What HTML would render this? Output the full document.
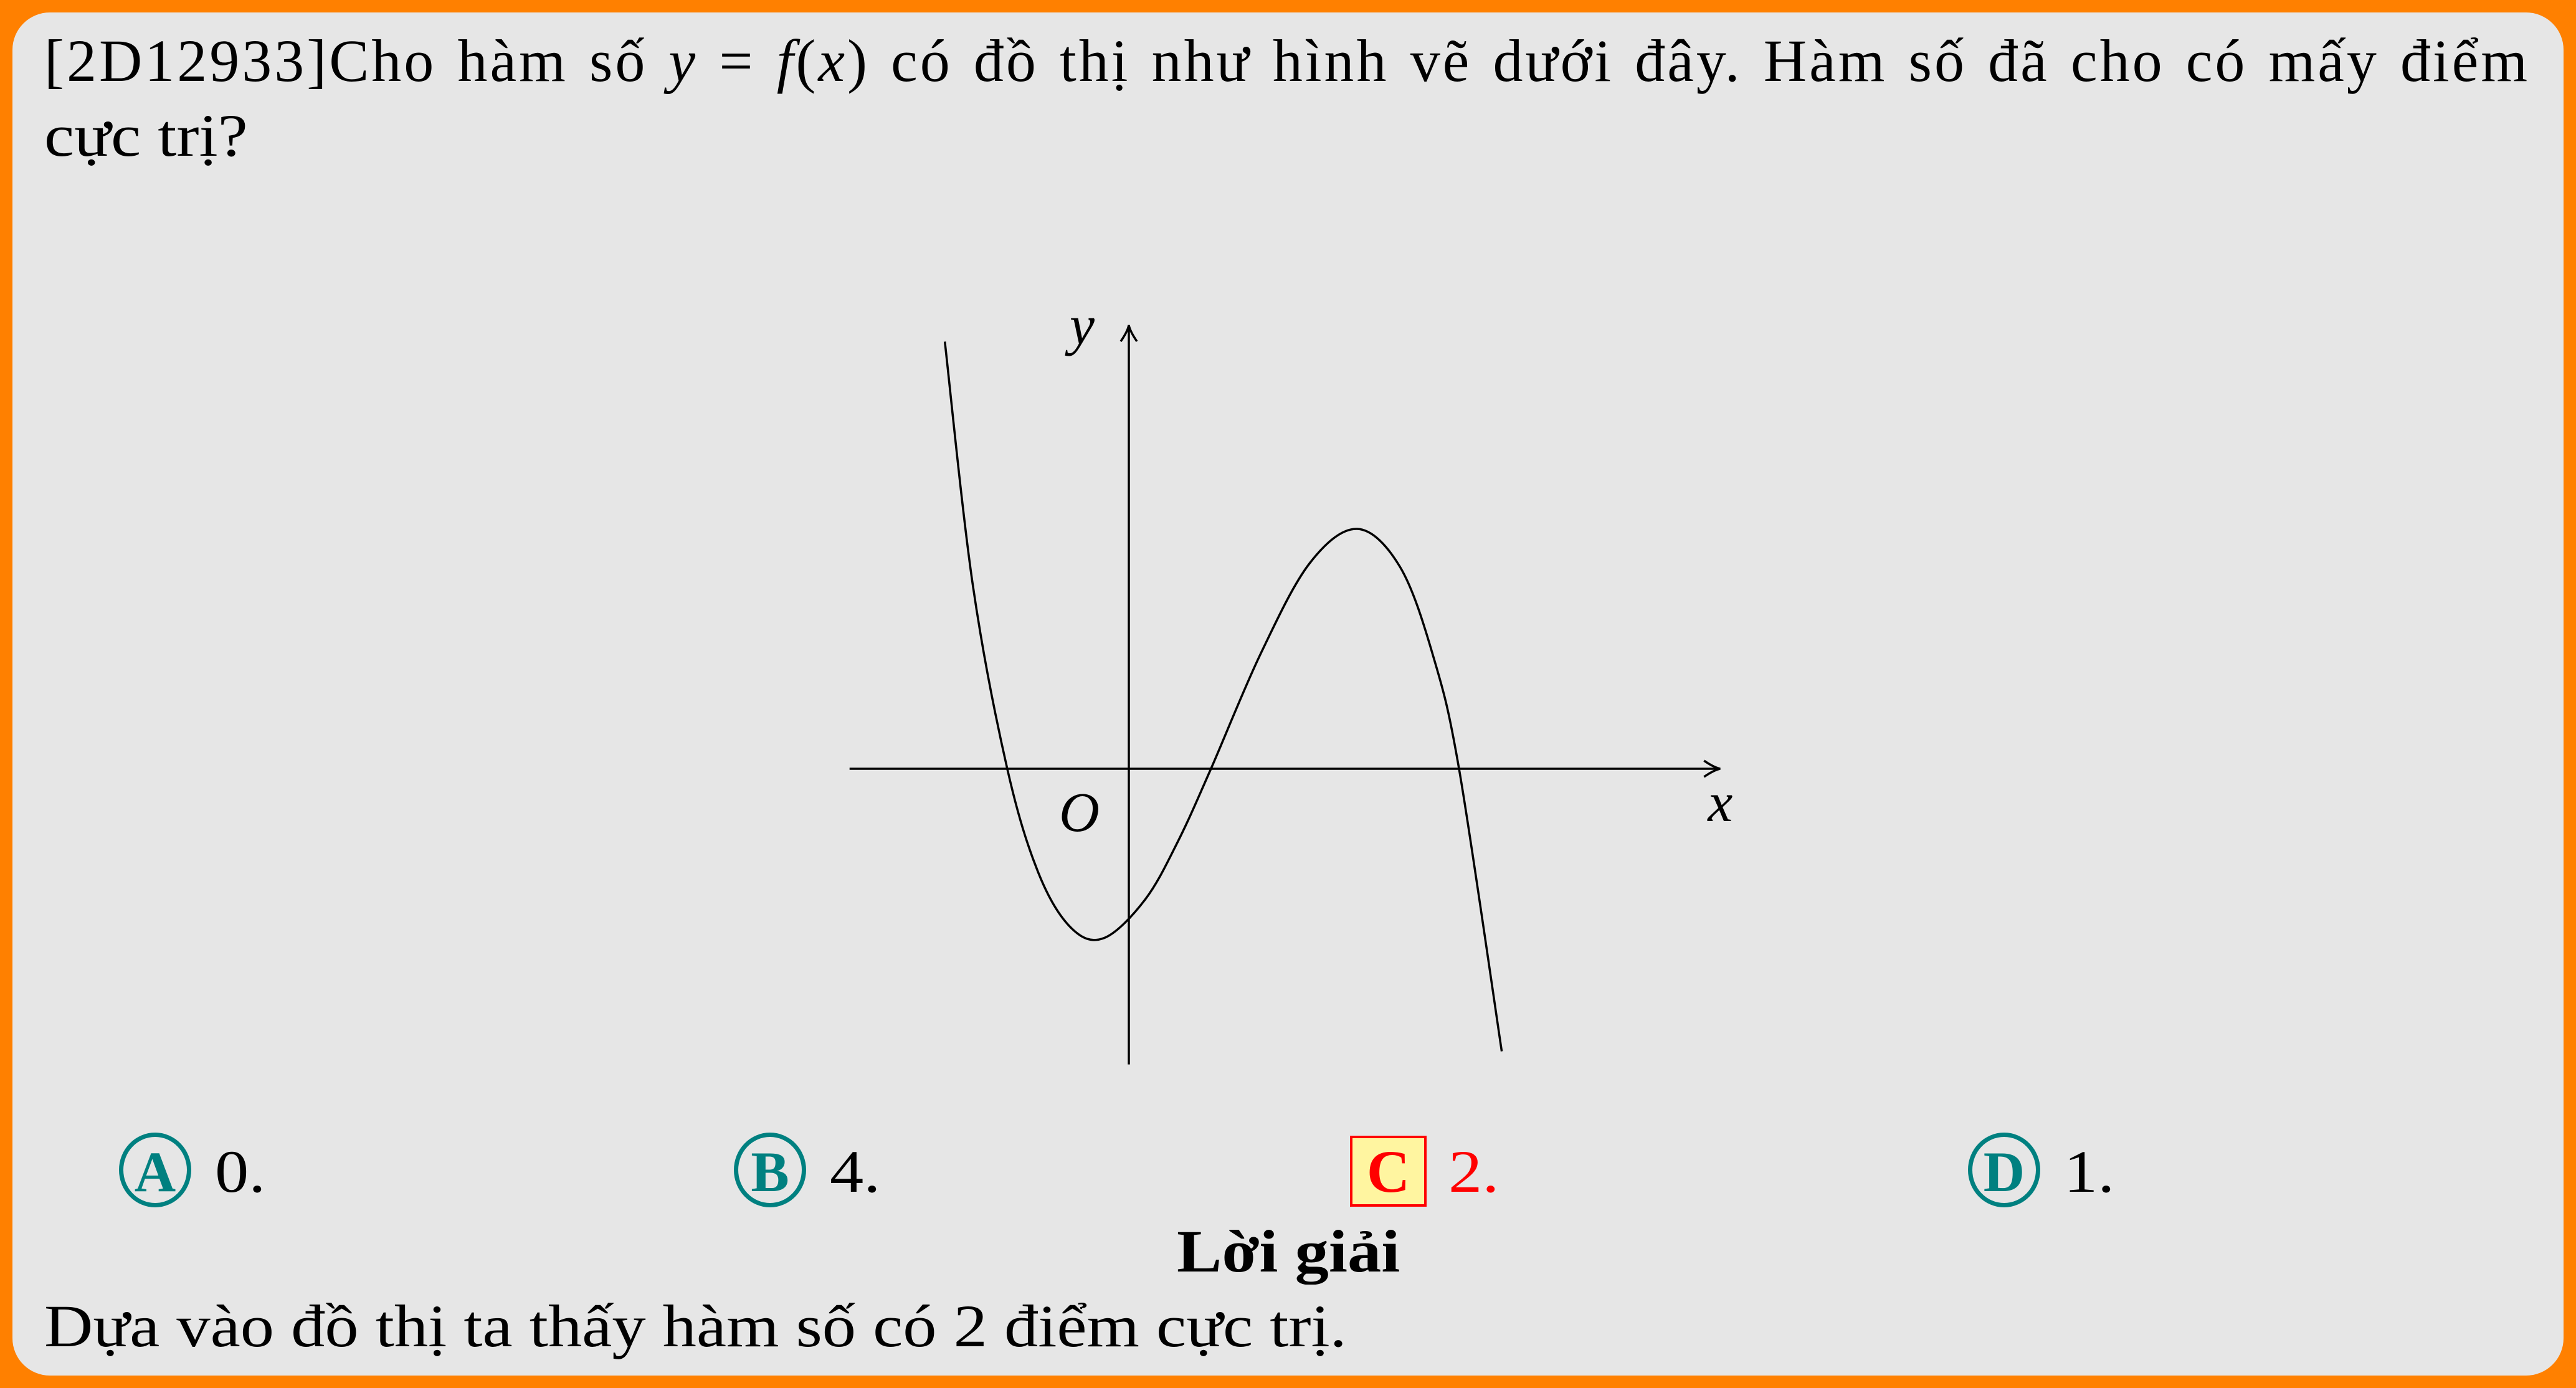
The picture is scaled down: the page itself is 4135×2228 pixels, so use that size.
<!DOCTYPE html>
<html><head><meta charset="utf-8"><style>
html,body{margin:0;padding:0;}
body{width:4135px;height:2228px;position:relative;overflow:hidden;background:#ff8000;font-family:"Liberation Serif","DejaVu Serif",serif;color:#000;}
#card{position:absolute;left:20px;top:20px;width:4095px;height:2188px;background:#e6e6e6;border-radius:60px;}
.t{position:absolute;font-size:96px;line-height:1;white-space:nowrap;}
.w{transform-origin:0 0;transform:scaleX(1.13);}
.circ{position:absolute;width:116px;height:120px;border:7px solid #008080;border-radius:50%;box-sizing:border-box;color:#008080;font-weight:bold;font-size:92px;text-align:center;line-height:112px;}
</style></head><body>
<div id="card"></div>
<div class="t" style="left:71px;top:50px;width:3990px;text-align:justify;text-align-last:justify;letter-spacing:4px;">[2D12933]Cho hàm số <i>y</i> = <i>f</i>(<i>x</i>) có đồ thị như hình vẽ dưới đây. Hàm số đã cho có mấy điểm</div>
<div class="t w" style="left:71px;top:170px;">cực trị?</div>

<svg id="chart" style="position:absolute;left:0;top:0" width="4135" height="2228"></svg>

<div class="circ" style="left:191px;top:1818px;">A</div>
<div class="t w" style="left:345px;top:1833px;">0.</div>
<div class="circ" style="left:1178px;top:1818px;">B</div>
<div class="t w" style="left:1332px;top:1833px;">4.</div>
<div style="position:absolute;left:2167px;top:1823px;width:123px;height:114px;box-sizing:border-box;border:4px solid #f00;background:#fff5a0;color:#f00;font-weight:bold;font-size:96px;text-align:center;line-height:108px;">C</div>
<div class="t w" style="left:2325px;top:1833px;color:#f00;">2.</div>
<div class="circ" style="left:3159px;top:1818px;">D</div>
<div class="t w" style="left:3313px;top:1833px;">1.</div>
<div class="t w" style="left:1889px;top:1961px;font-weight:bold;">Lời giải</div>
<div class="t w" style="left:71px;top:2081px;">Dựa vào đồ thị ta thấy hàm số có 2 điểm cực trị.</div>

<script>
// points (data units)
const xs = [-2.24, -1.9, -1.48, -1.1, -0.7, -0.3, 0.2, 0.6, 1.0, 1.6, 2.2, 2.78, 3.3, 3.7, 4.02, 4.54];
const ys = [5.2, 2.24, 0, -1.27, -1.94, -2.06, -1.59, -0.88, 0, 1.39, 2.5, 2.92, 2.46, 1.39, 0, -3.44];
const xRange = [-3.4, 7.2];
const yRange = [-3.6, 5.4];
const ox = 1812, oy = 1234, unit = 131.85;
const sx = v => ox + v * unit;
const sy = v => oy - v * unit;
const svg = document.getElementById('chart');
const NS = 'http://www.w3.org/2000/svg';
function mk(tag, attrs){const e=document.createElementNS(NS,tag);for(const k in attrs)e.setAttribute(k,attrs[k]);svg.appendChild(e);return e;}
const xa = mk('line',{x1:sx(xRange[0]),y1:oy,x2:sx(xRange[1])-4,y2:oy,stroke:'#000','stroke-width':3.5});


const ya = mk('line',{x1:ox,y1:sy(yRange[0]),x2:ox,y2:sy(yRange[1])+4,stroke:'#000','stroke-width':3.5});


const xh = mk('path',{d:`M${sx(xRange[1])-26},${oy-13} Q${sx(xRange[1])-10},${oy-2} ${sx(xRange[1])},${oy} Q${sx(xRange[1])-10},${oy+2} ${sx(xRange[1])-26},${oy+13}`,fill:'none',stroke:'#000','stroke-width':3.5});


const yh = mk('path',{d:`M${ox-13},${sy(yRange[1])+26} Q${ox-2},${sy(yRange[1])+10} ${ox},${sy(yRange[1])} Q${ox+2},${sy(yRange[1])+10} ${ox+13},${sy(yRange[1])+26}`,fill:'none',stroke:'#000','stroke-width':3.5});


function lbl(txt,x,y,name){const t=mk('text',{x:x,y:y,'font-family':'Liberation Serif, serif','font-style':'italic','font-size':90});t.textContent=txt;}
lbl('x', sx(xRange[1])-20, oy+84, 'x-axis-label');
lbl('y', ox-95, sy(yRange[1])+30, 'y-axis-label');
lbl('O', ox-112, oy+100, 'origin-label');
const P = xs.map((x,i)=>[sx(x),sy(ys[i])]);
let d = `M${P[0][0]},${P[0][1]}`;
for(let i=0;i<P.length-1;i++){
  const p0=P[i-1]||P[i], p1=P[i], p2=P[i+1], p3=P[i+2]||P[i+1];
  const c1=[p1[0]+(p2[0]-p0[0])/6, p1[1]+(p2[1]-p0[1])/6];
  const c2=[p2[0]-(p3[0]-p1[0])/6, p2[1]-(p3[1]-p1[1])/6];
  d+=` C${c1[0]},${c1[1]} ${c2[0]},${c2[1]} ${p2[0]},${p2[1]}`;
}
const curve = mk('path',{d:d,fill:'none',stroke:'#000','stroke-width':3.5});


</script>
</body></html>
